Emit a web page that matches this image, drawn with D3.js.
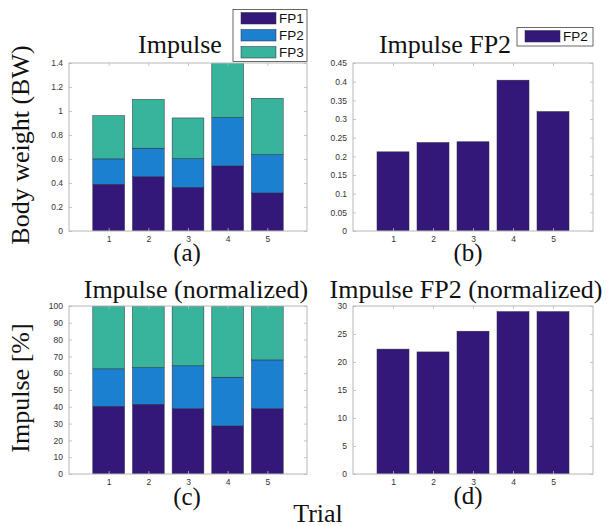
<!DOCTYPE html>
<html>
<head>
<meta charset="utf-8">
<script src="https://cdn.jsdelivr.net/npm/d3@7"></script>
<style>
  body { margin: 0; background: #fff; }
  svg text { fill: #111; }
</style>
</head>
<body>
<div id="container"></div>
<script>
/* DATA */
const trials = [1, 2, 3, 4, 5];
const fp1BW = [0.389, 0.453, 0.364, 0.542, 0.317];
const fp2BW = [0.212, 0.237, 0.239, 0.404, 0.320];
const fp3BW = [0.360, 0.407, 0.339, 0.500, 0.469];
const fp1Pct = [40.3, 41.5, 38.9, 28.6, 38.9];
const fp2Pct = [22.3, 21.8, 25.5, 29.0, 29.0];
const fp3Pct = [37.4, 36.7, 35.6, 42.4, 32.1];
const ticksBW = [0, 0.2, 0.4, 0.6, 0.8, 1, 1.2, 1.4];
const ticksFP2 = [0, 0.05, 0.1, 0.15, 0.2, 0.25, 0.3, 0.35, 0.4, 0.45];
const ticksPct = [0, 10, 20, 30, 40, 50, 60, 70, 80, 90, 100];
const ticksFP2Pct = [0, 5, 10, 15, 20, 25, 30];

/* CONSTANTS */
const width = 608, height = 526;
const colors = { FP1: "#33187a", FP2: "#1b80cf", FP3: "#37b49b" };
const serif = "'Liberation Serif', 'Times New Roman', serif";
const sans = "'Liberation Sans', Arial, sans-serif";

const svg = d3.select("#container")
  .append("svg")
  .attr("width", width)
  .attr("height", height);

function panel(opt) {
  const x = d3.scaleLinear().domain([0, 6]).range([opt.x0, opt.x1]);
  const y = d3.scaleLinear().domain([0, opt.ymax]).range([opt.y1, opt.y0]);
  const g = svg.append("g");

  const clipId = "clip" + opt.id;
  svg.append("clipPath").attr("id", clipId)
    .append("rect")
    .attr("x", opt.x0).attr("y", opt.y0)
    .attr("width", opt.x1 - opt.x0).attr("height", opt.y1 - opt.y0);

  // stack the series
  const rows = trials.map((t, i) => {
    const r = { trial: t };
    opt.series.forEach(s => r[s.name] = s.values[i]);
    return r;
  });
  const stack = d3.stack().keys(opt.series.map(s => s.name))(rows);

  const bars = g.append("g").attr("clip-path", `url(#${clipId})`);
  stack.forEach(layer => {
    bars.selectAll(null)
      .data(layer)
      .join("rect")
      .attr("x", d => x(d.data.trial - 0.4))
      .attr("width", x(0.8) - x(0))
      .attr("y", d => y(d[1]))
      .attr("height", d => y(d[0]) - y(d[1]))
      .attr("fill", colors[layer.key])
      .attr("stroke", "#2a2a3a")
      .attr("stroke-width", 0.5);
  });

  // box + inward ticks on all sides
  const axisColor = "#b8b8b8";
  const tickFmt = d => String(d);
  const bottom = g.append("g")
    .attr("transform", `translate(0,${opt.y1})`)
    .call(d3.axisBottom(x).tickValues(trials).tickSize(-3).tickPadding(5).tickFormat(tickFmt));
  const top = g.append("g")
    .attr("transform", `translate(0,${opt.y0})`)
    .call(d3.axisTop(x).tickValues(trials).tickSize(-3).tickFormat(""));
  const left = g.append("g")
    .attr("transform", `translate(${opt.x0},0)`)
    .call(d3.axisLeft(y).tickValues(opt.ticks).tickSize(-3).tickPadding(6).tickFormat(tickFmt));
  const right = g.append("g")
    .attr("transform", `translate(${opt.x1},0)`)
    .call(d3.axisRight(y).tickValues(opt.ticks).tickSize(-3).tickFormat(""));

  [bottom, top, left, right].forEach(a => {
    a.select(".domain").remove();
    a.selectAll("line").attr("stroke", axisColor).attr("stroke-width", 0.8);
    a.selectAll("text")
      .style("font-family", sans)
      .style("font-size", "8.5px")
      .style("fill", "#333");
  });
  g.append("rect")
    .attr("x", opt.x0).attr("y", opt.y0)
    .attr("width", opt.x1 - opt.x0).attr("height", opt.y1 - opt.y0)
    .attr("fill", "none")
    .attr("stroke", axisColor)
    .attr("stroke-width", 1);

  // title and letter
  svg.append("text")
    .attr("x", opt.titleX).attr("y", opt.titleY)
    .attr("text-anchor", "middle")
    .style("font-family", serif).style("font-size", "26px")
    .text(opt.title);
  svg.append("text")
    .attr("x", opt.labelX).attr("y", opt.labelY)
    .attr("text-anchor", "middle")
    .style("font-family", serif).style("font-size", "25px")
    .text(opt.label);
}

panel({
  id: "a", x0: 69, x1: 307, y0: 63, y1: 231, ymax: 1.4, ticks: ticksBW,
  series: [{ name: "FP1", values: fp1BW }, { name: "FP2", values: fp2BW }, { name: "FP3", values: fp3BW }],
  title: "Impulse", titleX: 180, titleY: 53, label: "(a)", labelX: 187, labelY: 261
});
panel({
  id: "b", x0: 353, x1: 593, y0: 63, y1: 231, ymax: 0.45, ticks: ticksFP2,
  series: [{ name: "FP1", values: fp2BW }],
  title: "Impulse FP2", titleX: 445, titleY: 53, label: "(b)", labelX: 468, labelY: 261
});
panel({
  id: "c", x0: 69, x1: 307, y0: 306, y1: 474, ymax: 100, ticks: ticksPct,
  series: [{ name: "FP1", values: fp1Pct }, { name: "FP2", values: fp2Pct }, { name: "FP3", values: fp3Pct }],
  title: "Impulse (normalized)", titleX: 196, titleY: 298, label: "(c)", labelX: 187, labelY: 505
});
panel({
  id: "d", x0: 353, x1: 593, y0: 306, y1: 474, ymax: 30, ticks: ticksFP2Pct,
  series: [{ name: "FP1", values: fp2Pct }],
  title: "Impulse FP2 (normalized)", titleX: 466, titleY: 298, label: "(d)", labelX: 468, labelY: 504
});

/* LEGENDS */
function legend(x0, y0, w, h, items) {
  const g = svg.append("g");
  g.append("rect")
    .attr("x", x0).attr("y", y0).attr("width", w).attr("height", h)
    .attr("fill", "#fff").attr("stroke", "#444").attr("stroke-width", 0.8);
  items.forEach((it, i) => {
    const yy = y0 + 3 + i * 17;
    g.append("rect")
      .attr("x", x0 + 8).attr("y", yy)
      .attr("width", 35).attr("height", 11.5)
      .attr("fill", it.color).attr("stroke", "#2a2a3a").attr("stroke-width", 0.5);
    g.append("text")
      .attr("x", x0 + 46).attr("y", yy + 10.5)
      .style("font-family", sans).style("font-size", "13.5px")
      .text(it.name);
  });
}
legend(233, 9.5, 74, 52, [
  { name: "FP1", color: colors.FP1 },
  { name: "FP2", color: colors.FP2 },
  { name: "FP3", color: colors.FP3 }
]);
legend(517, 27.5, 76, 18.5, [{ name: "FP2", color: colors.FP1 }]);

/* AXIS TITLES */
svg.append("text")
  .attr("transform", "translate(29,145) rotate(-90)")
  .attr("text-anchor", "middle")
  .style("font-family", serif).style("font-size", "26px")
  .text("Body weight (BW)");
svg.append("text")
  .attr("transform", "translate(29,388) rotate(-90)")
  .attr("text-anchor", "middle")
  .style("font-family", serif).style("font-size", "26px")
  .text("Impulse [%]");
svg.append("text")
  .attr("x", 318).attr("y", 522)
  .attr("text-anchor", "middle")
  .style("font-family", serif).style("font-size", "26px")
  .text("Trial");
</script>
</body>
</html>
